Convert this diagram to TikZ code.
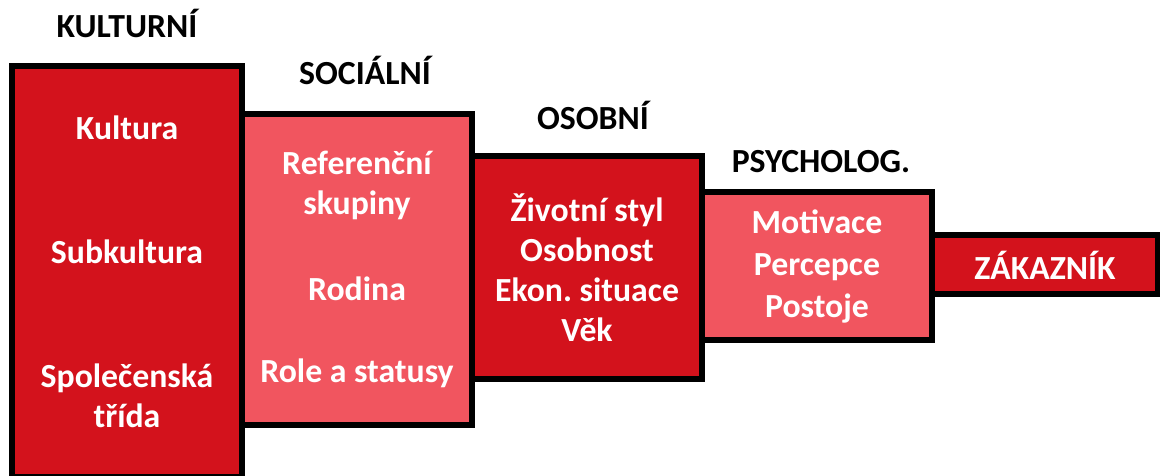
\documentclass[tikz,border=0pt]{standalone}
\usepackage{fontspec}
\setmainfont{Carlito}
\frenchspacing
\usetikzlibrary{positioning}
\definecolor{layerdark}{RGB}{211,18,28}
\definecolor{layerlight}{RGB}{241,85,95}
\definecolor{labelblack}{RGB}{0,0,0}
\tikzset{
  % Dark layer box
  darklayer/.style={
    rectangle, minimum width=5.75cm, outer sep=0pt,
    fill=layerdark, draw=black, line width=0.15cm,
    text=white, font=\bfseries\fontsize{24}{28.5}\selectfont, align=center
  },
  % Light layer box
  lightlayer/.style={
    darklayer, fill=layerlight
  },
  % Heading above a layer
  headlabel/.style={
    inner sep=0pt, text=labelblack,
    font=\bfseries\fontsize{24}{28.5}\selectfont
  },
}
\begin{document}
\begin{tikzpicture}
  \useasboundingbox (0,0) rectangle (29cm,-11.9cm);
  \node[darklayer, minimum height=10.275cm, anchor=north west] (kult) at (0.3cm,-1.65cm)
    {Kultura\\[2.1cm]Subkultura\\[2.1cm]Společenská\\třída};
  \node[lightlayer, minimum height=7.775cm,
        below right=1.19cm and 0pt of kult.north east] (soc)
    {Referenční\\skupiny\\[1.15cm]Rodina\\[1.05cm]Role a statusy};
  \node[darklayer, minimum height=5.575cm,
        below right=1.06cm and 0pt of soc.north east] (osob)
    {Životní styl\\Osobnost\\Ekon. situace\\Věk};
  \node[lightlayer, minimum height=3.7cm,
        below right=0.91cm and 0pt of osob.north east] (psych)
    {Motivace\\[1.5pt]Percepce\\[1.5pt]Postoje};
  \node[darklayer, minimum width=5.65cm, minimum height=1.475cm,
        below right=1.075cm and 0pt of psych.north east] (zak) {ZÁKAZNÍK};

  \node[headlabel, above=0.69cm of kult] (hkult) {KULTURNÍ};
  \node[headlabel, above=0.72cm of soc, xshift=0.2cm] (hsoc) {SOCIÁLNÍ};
  \node[headlabel, above=0.65cm of osob, xshift=0.15cm] (hosob) {OSOBNÍ};
  \node[headlabel, above=0.48cm of psych, xshift=0.1cm] (hpsych) {PSYCHOLOG.};
\end{tikzpicture}
\end{document}
